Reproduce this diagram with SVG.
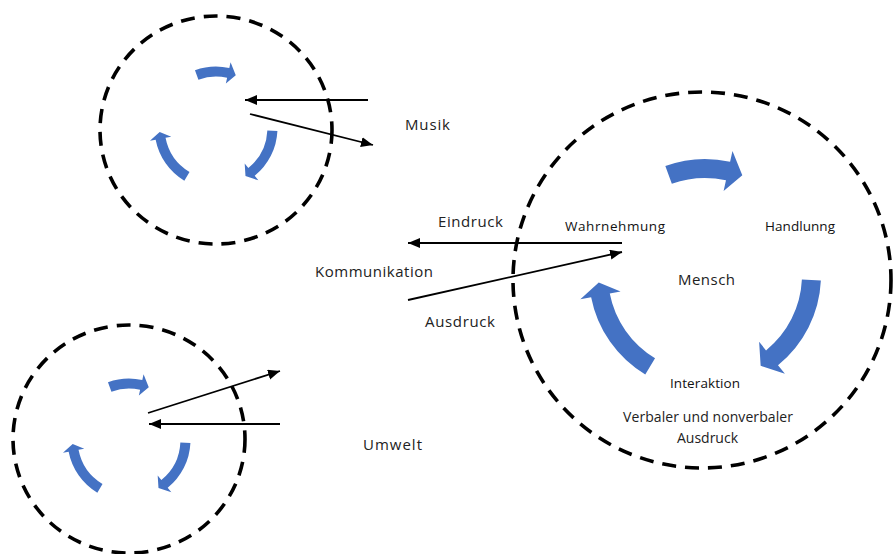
<svg xmlns="http://www.w3.org/2000/svg" xmlns:xlink="http://www.w3.org/1999/xlink" width="893" height="554" viewBox="0 0 893 554">
  <style>
    .ring { fill: none; stroke: #000; stroke-width: 3.6; stroke-dasharray: 14 9; }
    .flow { fill: #4472C4; }
    .link { fill: none; stroke: #000; stroke-width: 1.8; marker-end: url(#head); }
    .lbl { font-family: "Open Sans", "Noto Sans", sans-serif; fill: #222; }
    .big { font-size: 15px; }
    .mid { font-size: 14px; }
    .sm { font-size: 13.5px; fill: #111; font-weight: 500; }
  </style>
  <defs>
    <marker id="head" markerUnits="userSpaceOnUse" markerWidth="13" markerHeight="11" refX="12" refY="5" orient="auto">
      <path d="M0,0 L12,5 L0,10 Z" fill="#000"/>
    </marker>
    <!-- three circular arrows around a common centre (0,0) -->
    <g id="cycle" class="flow">
      <path d="M -39.67 -109.00 A 116 116 0 0 1 25.10 -113.25 L 27.48 -123.99 L 37.30 -99.76 L 18.61 -83.96 L 20.99 -94.70 A 97 97 0 0 0 -33.17 -91.15 Z"/>
      <path d="M 115.87 5.46 A 116 116 0 0 1 73.00 90.14 L 79.92 98.69 L 55.65 90.80 L 54.12 66.83 L 61.04 75.38 A 97 97 0 0 0 96.89 4.57 Z"/>
      <path d="M -59.74 99.44 A 116 116 0 0 1 -113.87 22.13 L -124.66 24.23 L -106.24 7.43 L -84.42 16.41 L -95.22 18.51 A 97 97 0 0 0 -49.96 83.15 Z"/>
    </g>
  </defs>

  <g id="musik">
    <ellipse class="ring" cx="216" cy="130" rx="116" ry="114"/>
    <use xlink:href="#cycle" transform="translate(216,128) scale(0.53)"/>
    <text class="lbl big" x="405" y="130" textLength="45">Musik</text>
  </g>

  <g id="umwelt">
    <ellipse class="ring" cx="129" cy="439" rx="116" ry="114"/>
    <use xlink:href="#cycle" transform="translate(129,440) scale(0.53)"/>
    <text class="lbl big" x="363" y="450" textLength="59">Umwelt</text>
  </g>

  <g id="mensch">
    <ellipse class="ring" cx="702" cy="280" rx="189" ry="188"/>
    <use xlink:href="#cycle" transform="translate(705,275)"/>
    <text class="lbl sm" x="565" y="231" textLength="100">Wahrnehmung</text>
    <text class="lbl sm" x="765" y="231" textLength="70">Handlunng</text>
    <text class="lbl big" x="678" y="285" textLength="57">Mensch</text>
    <text class="lbl sm" x="670" y="388" textLength="70">Interaktion</text>
    <text class="lbl mid" x="623" y="422" textLength="170">Verbaler und nonverbaler</text>
    <text class="lbl mid" x="677" y="443" textLength="61">Ausdruck</text>
  </g>

  <g id="kommunikation">
    <text class="lbl big" x="438" y="227" textLength="65">Eindruck</text>
    <text class="lbl big" x="315" y="277" textLength="118">Kommunikation</text>
    <text class="lbl big" x="425" y="327" textLength="70">Ausdruck</text>
  </g>

  <g id="connectors">
    <line class="link" x1="368" y1="100" x2="245" y2="100"/>
    <line class="link" x1="250" y1="114" x2="373" y2="145"/>
    <line class="link" x1="622" y1="243" x2="408" y2="243"/>
    <line class="link" x1="408" y1="300" x2="622" y2="252"/>
    <line class="link" x1="148" y1="413" x2="280" y2="371"/>
    <line class="link" x1="280" y1="424" x2="149" y2="424"/>
  </g>
</svg>
